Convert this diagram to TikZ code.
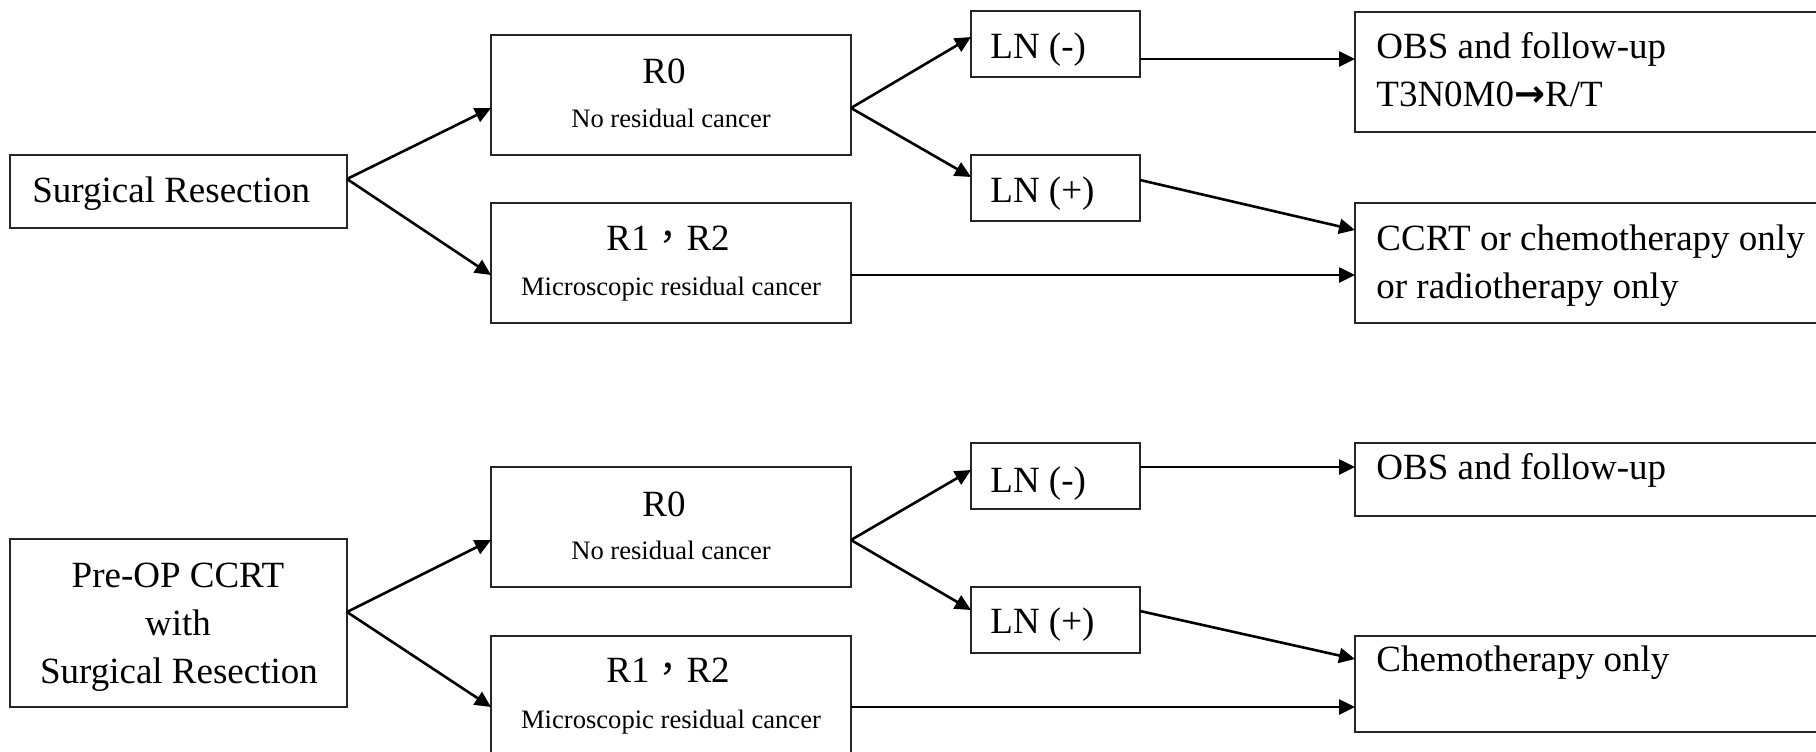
\documentclass[tikz,border=0pt]{standalone}
\usepackage{fontspec}
\setmainfont{Liberation Serif}
\newfontfamily\cjkfont{Noto Sans CJK TC}
\newfontfamily\symfont{DejaVu Sans}
\usetikzlibrary{arrows.meta}
\newcommand\bigtxt{\fontsize{18.5pt}{22pt}\selectfont}
\newcommand\smalltxt{\fontsize{13.3pt}{16pt}\selectfont}
\begin{document}
\begin{tikzpicture}[x=0.5pt,y=-0.5pt,
  box/.style={draw=black!85,line width=1pt,inner sep=0pt,outer sep=0pt,rectangle},
  big/.style={inner sep=0pt,font=\bigtxt},
  small/.style={inner sep=0pt,font=\smalltxt},
  arr/.style={line width=1.3pt,-{Triangle[length=8pt,width=7.5pt]}}]
\useasboundingbox (0,0) rectangle (1816,751);
\clip (0,0) rectangle (1816,751);
% ---------- top diagram ----------
\node[box,minimum width=168.5pt,minimum height=36.5pt] (SR) at (178.5,191.5) {};
\node[box,minimum width=180pt,minimum height=60pt] (R0a) at (671,95) {};
\node[box,minimum width=180pt,minimum height=60pt] (R1a) at (671,263) {};
\node[box,minimum width=84.5pt,minimum height=33pt] (LNma) at (1055.5,44) {};
\node[box,minimum width=84.5pt,minimum height=33pt] (LNpa) at (1055.5,188) {};
\node[box,minimum width=240pt,minimum height=60pt] (OBSa) at (1595,72) {};
\node[box,minimum width=240pt,minimum height=60pt] (CCRTa) at (1595,263) {};
\node[big,anchor=base west] (tSR) at (32,202) {Surgical Resection};
\node[big,anchor=base] (tR0a) at (664,83) {R0};
\node[small,anchor=base] (tR0as) at (671,127) {No residual cancer};
\node[big,anchor=base] (tR1a) at (668,250) {R1{\cjkfont ，}R2};
\node[small,anchor=base] (tR1as) at (671,295) {Microscopic residual cancer};
\node[big,anchor=base west] (tLNma) at (990,58) {LN (-)};
\node[big,anchor=base west] (tLNpa) at (990,202) {LN (+)};
\node[big,anchor=base west] (tOBSa1) at (1376,58) {OBS and follow-up};
\node[big,anchor=base west] (tOBSa2) at (1376,106) {T3N0M0{\symfont\bfseries →}R/T};
\node[big,anchor=base west] (tCCa1) at (1376,250) {CCRT or chemotherapy only};
\node[big,anchor=base west] (tCCa2) at (1376,298) {or radiotherapy only};
\draw[arr] ([yshift=6.25pt]SR.east) -- ([yshift=-6.5pt]R0a.west);
\draw[arr] ([yshift=6.25pt]SR.east) -- ([yshift=-6pt]R1a.west);
\draw[arr] ([yshift=-6.5pt]R0a.east) -- ([yshift=3.5pt]LNma.west);
\draw[arr] ([yshift=-6.5pt]R0a.east) -- ([yshift=5.5pt]LNpa.west);
\draw[arr] ([yshift=-7.5pt]LNma.east) -- ([yshift=-7.5pt]LNma.east -| OBSa.west);
\draw[arr] ([yshift=4pt]LNpa.east) -- ([yshift=16.5pt]CCRTa.west);
\draw[arr] ([yshift=-6pt]R1a.east) -- ([yshift=-6pt]R1a.east -| CCRTa.west);
% ---------- bottom diagram ----------
\node[box,minimum width=168.5pt,minimum height=84pt] (PRE) at (178.5,623) {};
\node[box,minimum width=180pt,minimum height=60pt] (R0b) at (671,527) {};
\node[box,minimum width=180pt,minimum height=60pt] (R1b) at (671,696) {};
\node[box,minimum width=84.5pt,minimum height=33pt] (LNmb) at (1055.5,476) {};
\node[box,minimum width=84.5pt,minimum height=33pt] (LNpb) at (1055.5,620) {};
\node[box,minimum width=240pt,minimum height=36.5pt] (OBSb) at (1595,479.5) {};
\node[box,minimum width=240pt,minimum height=48pt] (CHb) at (1595,684) {};
\node[big,anchor=base] (tPRE1) at (178,587) {Pre-OP CCRT};
\node[big,anchor=base] (tPRE2) at (178,635) {with};
\node[big,anchor=base] (tPRE3) at (179,683) {Surgical Resection};
\node[big,anchor=base] (tR0b) at (664,516) {R0};
\node[small,anchor=base] (tR0bs) at (671,559) {No residual cancer};
\node[big,anchor=base] (tR1b) at (668,682) {R1{\cjkfont ，}R2};
\node[small,anchor=base] (tR1bs) at (671,728) {Microscopic residual cancer};
\node[big,anchor=base west] (tLNmb) at (990,492) {LN (-)};
\node[big,anchor=base west] (tLNpb) at (990,633) {LN (+)};
\node[big,anchor=base west] (tOBSb) at (1376,479) {OBS and follow-up};
\node[big,anchor=base west] (tCHb) at (1376,671) {Chemotherapy only};
\draw[arr] ([yshift=5.5pt]PRE.east) -- ([yshift=-6.5pt]R0b.west);
\draw[arr] ([yshift=5.5pt]PRE.east) -- ([yshift=-5.5pt]R1b.west);
\draw[arr] ([yshift=-6.5pt]R0b.east) -- ([yshift=3pt]LNmb.west);
\draw[arr] ([yshift=-6.5pt]R0b.east) -- ([yshift=5pt]LNpb.west);
\draw[arr] ([yshift=4.5pt]LNmb.east) -- ([yshift=4.5pt]LNmb.east -| OBSb.west);
\draw[arr] ([yshift=4.5pt]LNpb.east) -- ([yshift=12.5pt]CHb.west);
\draw[arr] ([yshift=-5.5pt]R1b.east) -- ([yshift=-5.5pt]R1b.east -| CHb.west);
\end{tikzpicture}
\end{document}
